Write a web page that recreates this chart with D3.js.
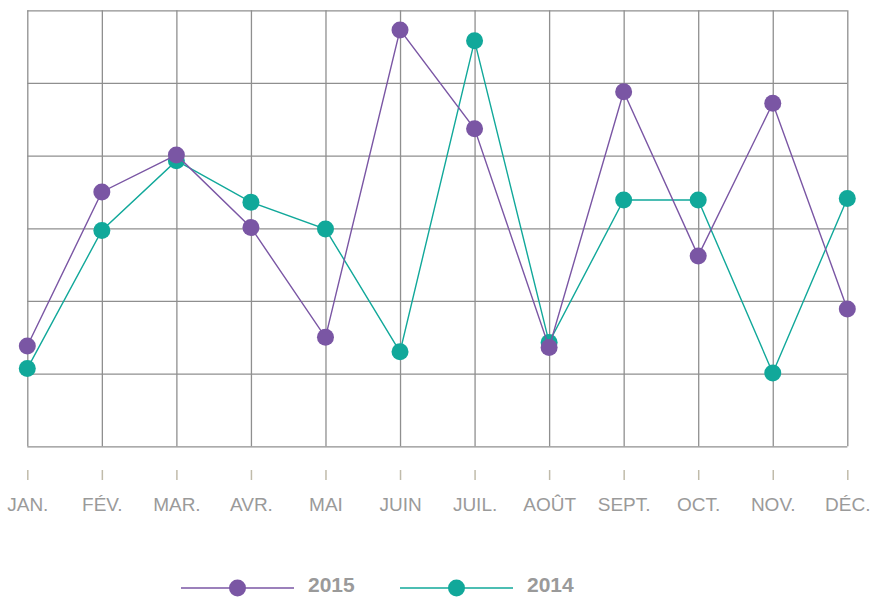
<!DOCTYPE html>
<html>
<head>
<meta charset="utf-8">
<script src="https://cdn.jsdelivr.net/npm/d3@7"></script>
<style>
  body { margin: 0; background: #fff; }
  svg { display: block; font-family: "Liberation Sans", Arial, sans-serif; }
</style>
</head>
<body>
<svg id="chart" width="871" height="597"></svg>
<script>
// months on the x axis
var months = ["JAN.", "FÉV.", "MAR.", "AVR.", "MAI", "JUIN", "JUIL.", "AOÛT", "SEPT.", "OCT.", "NOV.", "DÉC."];

// values (grid units, 0 at bottom, 6 at top)
var values2015 = [1.38, 3.50, 4.01, 3.01, 1.50, 5.73, 4.37, 1.36, 4.88, 2.62, 4.72, 1.89];
var values2014 = [1.07, 2.97, 3.93, 3.36, 2.99, 1.30, 5.58, 1.43, 3.39, 3.39, 1.01, 3.41];

var seriesNames = ["2015", "2014"];
var colors = {"2015": "#7a56a4", "2014": "#11a89a"};

var svg = d3.select("#chart");

// plot area
var plotLeft = 27.3, plotRight = 847.3, plotTop = 10.3, plotBottom = 446.3;

var x = d3.scalePoint()
    .domain(months)
    .range([plotLeft, plotRight]);

var y = d3.scaleLinear()
    .domain([0, 6])
    .range([plotBottom, plotTop]);

// horizontal grid
svg.append("g")
    .attr("transform", `translate(${plotLeft},0)`)
    .call(d3.axisLeft(y).ticks(6).tickSize(-(plotRight - plotLeft)).tickFormat(""))
    .call(g => g.select(".domain").remove())
    .selectAll("line")
    .attr("stroke", "#8f8f8f")
    .attr("stroke-width", 1.3);

// vertical grid
svg.append("g")
    .attr("transform", `translate(0,${plotBottom})`)
    .call(d3.axisBottom(x).tickSize(-(plotBottom - plotTop)).tickFormat(""))
    .call(g => g.select(".domain").remove())
    .selectAll("line")
    .attr("stroke", "#8f8f8f")
    .attr("stroke-width", 1.3);

// month ticks + labels below the grid
var xAxis = svg.append("g")
    .attr("transform", "translate(0,470)")
    .call(d3.axisBottom(x).tickSize(10).tickPadding(18));
xAxis.select(".domain").remove();
xAxis.selectAll("line")
    .attr("stroke", "#c0bbaa")
    .attr("stroke-width", 1.5);
xAxis.selectAll("text")
    .attr("fill", "#9a9a9a")
    .attr("font-size", 19)
    .attr("font-family", "Liberation Sans, Arial, sans-serif");

// lines and dots (2014 first so 2015 sits on top)
var line = d3.line()
    .x((d, i) => x(months[i]))
    .y(d => y(d));

var data = {"2015": values2015, "2014": values2014};

["2014", "2015"].forEach(function(name) {
    var g = svg.append("g");
    g.append("path")
        .datum(data[name])
        .attr("fill", "none")
        .attr("stroke", colors[name])
        .attr("stroke-width", 1.4)
        .attr("d", line);
    g.selectAll("circle")
        .data(data[name])
        .join("circle")
        .attr("cx", (d, i) => x(months[i]))
        .attr("cy", d => y(d))
        .attr("r", 8.5)
        .attr("fill", colors[name]);
});

// legend
var legendX = {"2015": 181, "2014": 400};
seriesNames.forEach(function(name) {
    var lx = legendX[name];
    var lg = svg.append("g").attr("transform", `translate(${lx},588)`);
    lg.append("line")
        .attr("x1", 0).attr("x2", 113)
        .attr("stroke", colors[name])
        .attr("stroke-width", 1.6);
    lg.append("circle")
        .attr("cx", 56.5)
        .attr("r", 8.5)
        .attr("fill", colors[name]);
    lg.append("text")
        .attr("x", 127)
        .attr("y", 4)
        .attr("fill", "#9a9a9a")
        .attr("font-size", 21)
        .attr("font-weight", "bold")
        .text(name);
});
</script>
</body>
</html>
